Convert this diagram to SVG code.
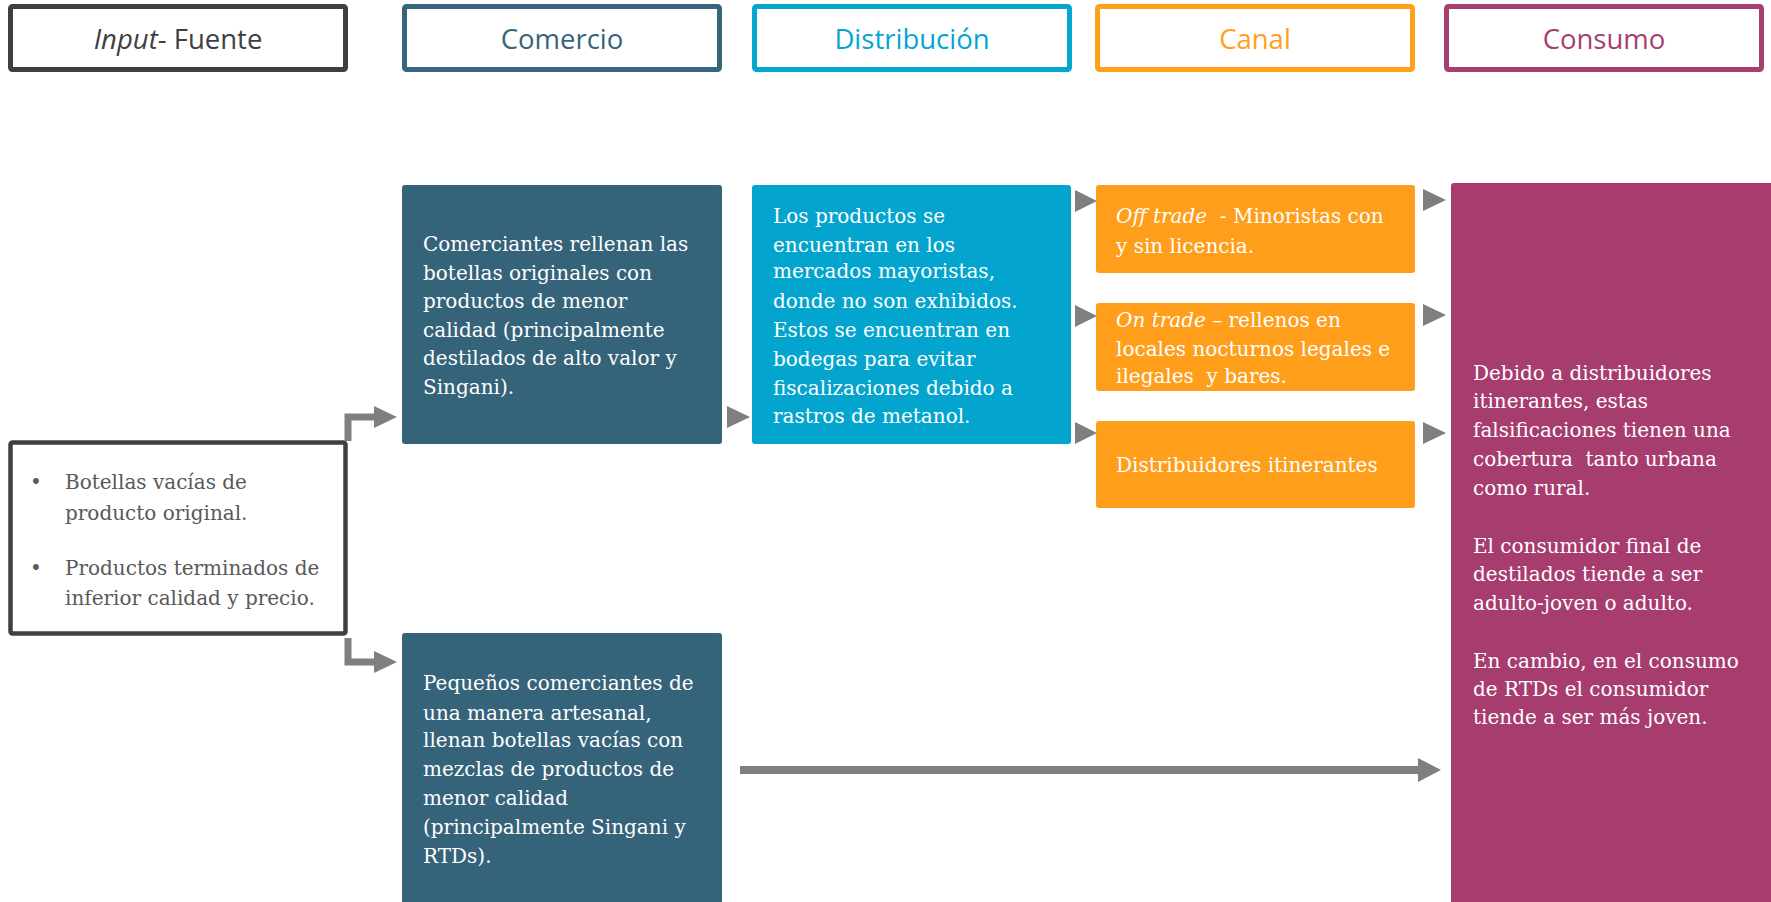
<svg xmlns="http://www.w3.org/2000/svg" width="1771" height="902" viewBox="0 0 1771 902">
<style>
.hdr{fill:#fff;stroke-width:5}
.ht{font-family:"Open Sans","Liberation Sans",sans-serif;font-size:27.5px;text-anchor:middle}
.bt{font-family:"DejaVu Serif","Liberation Serif",serif;font-size:20px;fill:#fff;white-space:pre}
.gt{font-family:"DejaVu Serif","Liberation Serif",serif;font-size:20px;fill:#595959}
.arw{fill:#7f7f7f}
.shaft{fill:none;stroke:#7f7f7f;stroke-width:7}
</style>
<rect width="1771" height="902" fill="#fff"/>
<g id="hdr-input"><rect class="hdr" x="10.5" y="6.5" width="335" height="63" rx="2" stroke="#404040"/><text class="ht" x="178" y="49" fill="#404040"><tspan font-style="italic">Input</tspan>- Fuente</text></g>
<g id="hdr-comercio"><rect class="hdr" x="404.5" y="6.5" width="315" height="63" rx="2" stroke="#36657c"/><text class="ht" x="562" y="49" fill="#36657c">Comercio</text></g>
<g id="hdr-distribucion"><rect class="hdr" x="754.5" y="6.5" width="315" height="63" rx="2" stroke="#03a6cf"/><text class="ht" x="912" y="49" fill="#03a6cf">Distribución</text></g>
<g id="hdr-canal"><rect class="hdr" x="1097.5" y="6.5" width="315" height="63" rx="2" stroke="#ffa01a"/><text class="ht" x="1255" y="49" fill="#ffa01a">Canal</text></g>
<g id="hdr-consumo"><rect class="hdr" x="1446.5" y="6.5" width="315" height="63" rx="2" stroke="#a63f70"/><text class="ht" x="1604" y="49" fill="#a63f70">Consumo</text></g>

<g id="input"><rect x="10.5" y="442.5" width="335" height="191" rx="2" fill="#fff" stroke="#404040" stroke-width="4.5"/>
<text class="gt"><tspan x="30" y="489">•</tspan><tspan x="65" y="489">Botellas vacías de</tspan><tspan x="65" y="520">producto original.</tspan><tspan x="30" y="575">•</tspan><tspan x="65" y="575">Productos terminados de</tspan><tspan x="65" y="605">inferior calidad y precio.</tspan></text></g>

<g id="comercio1"><rect x="402" y="185" width="320" height="259" rx="3" fill="#35637a"/>
<text class="bt"><tspan x="423" y="251">Comerciantes rellenan las</tspan><tspan x="423" y="280">botellas originales con</tspan><tspan x="423" y="308">productos de menor</tspan><tspan x="423" y="337">calidad (principalmente</tspan><tspan x="423" y="365">destilados de alto valor y</tspan><tspan x="423" y="394">Singani).</tspan></text></g>

<g id="comercio2"><rect x="402" y="633" width="320" height="275" rx="3" fill="#35637a"/>
<text class="bt"><tspan x="423" y="690">Pequeños comerciantes de</tspan><tspan x="423" y="720">una manera artesanal,</tspan><tspan x="423" y="747">llenan botellas vacías con</tspan><tspan x="423" y="776">mezclas de productos de</tspan><tspan x="423" y="805">menor calidad</tspan><tspan x="423" y="834">(principalmente Singani y</tspan><tspan x="423" y="863">RTDs).</tspan></text></g>

<g id="distribucion"><rect x="752" y="185" width="319" height="259" rx="3" fill="#03a5cf"/>
<text class="bt"><tspan x="773" y="223">Los productos se</tspan><tspan x="773" y="252">encuentran en los</tspan><tspan x="773" y="278">mercados mayoristas,</tspan><tspan x="773" y="308">donde no son exhibidos.</tspan><tspan x="773" y="337">Estos se encuentran en</tspan><tspan x="773" y="366">bodegas para evitar</tspan><tspan x="773" y="395">fiscalizaciones debido a</tspan><tspan x="773" y="423">rastros de metanol.</tspan></text></g>

<g id="canal-off"><rect x="1096" y="185" width="319" height="88" rx="3" fill="#ff9e1a"/>
<text class="bt"><tspan x="1116" y="223"><tspan font-style="italic">Off trade</tspan>  - Minoristas con</tspan><tspan x="1116" y="253">y sin licencia.</tspan></text></g>
<g id="canal-on"><rect x="1096" y="303" width="319" height="88" rx="3" fill="#ff9e1a"/>
<text class="bt"><tspan x="1116" y="327"><tspan font-style="italic">On trade</tspan> – rellenos en</tspan><tspan x="1116" y="356">locales nocturnos legales e</tspan><tspan x="1116" y="383">ilegales  y bares.</tspan></text></g>
<g id="canal-dist"><rect x="1096" y="421" width="319" height="87" rx="3" fill="#ff9e1a"/>
<text class="bt"><tspan x="1116" y="472">Distribuidores itinerantes</tspan></text></g>

<g id="consumo"><rect x="1451" y="183" width="325" height="725" rx="3" fill="#a73c6e"/>
<text class="bt"><tspan x="1473" y="380">Debido a distribuidores</tspan><tspan x="1473" y="408">itinerantes, estas</tspan><tspan x="1473" y="437">falsificaciones tienen una</tspan><tspan x="1473" y="466">cobertura  tanto urbana</tspan><tspan x="1473" y="495">como rural.</tspan><tspan x="1473" y="553">El consumidor final de</tspan><tspan x="1473" y="581">destilados tiende a ser</tspan><tspan x="1473" y="610">adulto-joven o adulto.</tspan><tspan x="1473" y="668">En cambio, en el consumo</tspan><tspan x="1473" y="696">de RTDs el consumidor</tspan><tspan x="1473" y="724">tiende a ser más joven.</tspan></text></g>

<g id="connectors">
<path class="shaft" d="M348 441 V417 H376"/><polygon class="arw" points="374,406 397,417 374,428"/>
<path class="shaft" d="M348 638 V662 H376"/><polygon class="arw" points="374,651 397,662 374,673"/>
<polygon class="arw" points="727,406 750,417 727,428"/>
<polygon class="arw" points="1075,190 1097,201 1075,212"/>
<polygon class="arw" points="1075,305 1097,316 1075,327"/>
<polygon class="arw" points="1075,422 1097,433 1075,444"/>
<polygon class="arw" points="1423,189 1446,200 1423,211"/>
<polygon class="arw" points="1423,304 1446,315 1423,326"/>
<polygon class="arw" points="1423,422 1446,433 1423,444"/>
<line x1="740" y1="770" x2="1420" y2="770" stroke="#7f7f7f" stroke-width="8"/><polygon class="arw" points="1418,758 1441,770 1418,782"/>
</g>
</svg>
